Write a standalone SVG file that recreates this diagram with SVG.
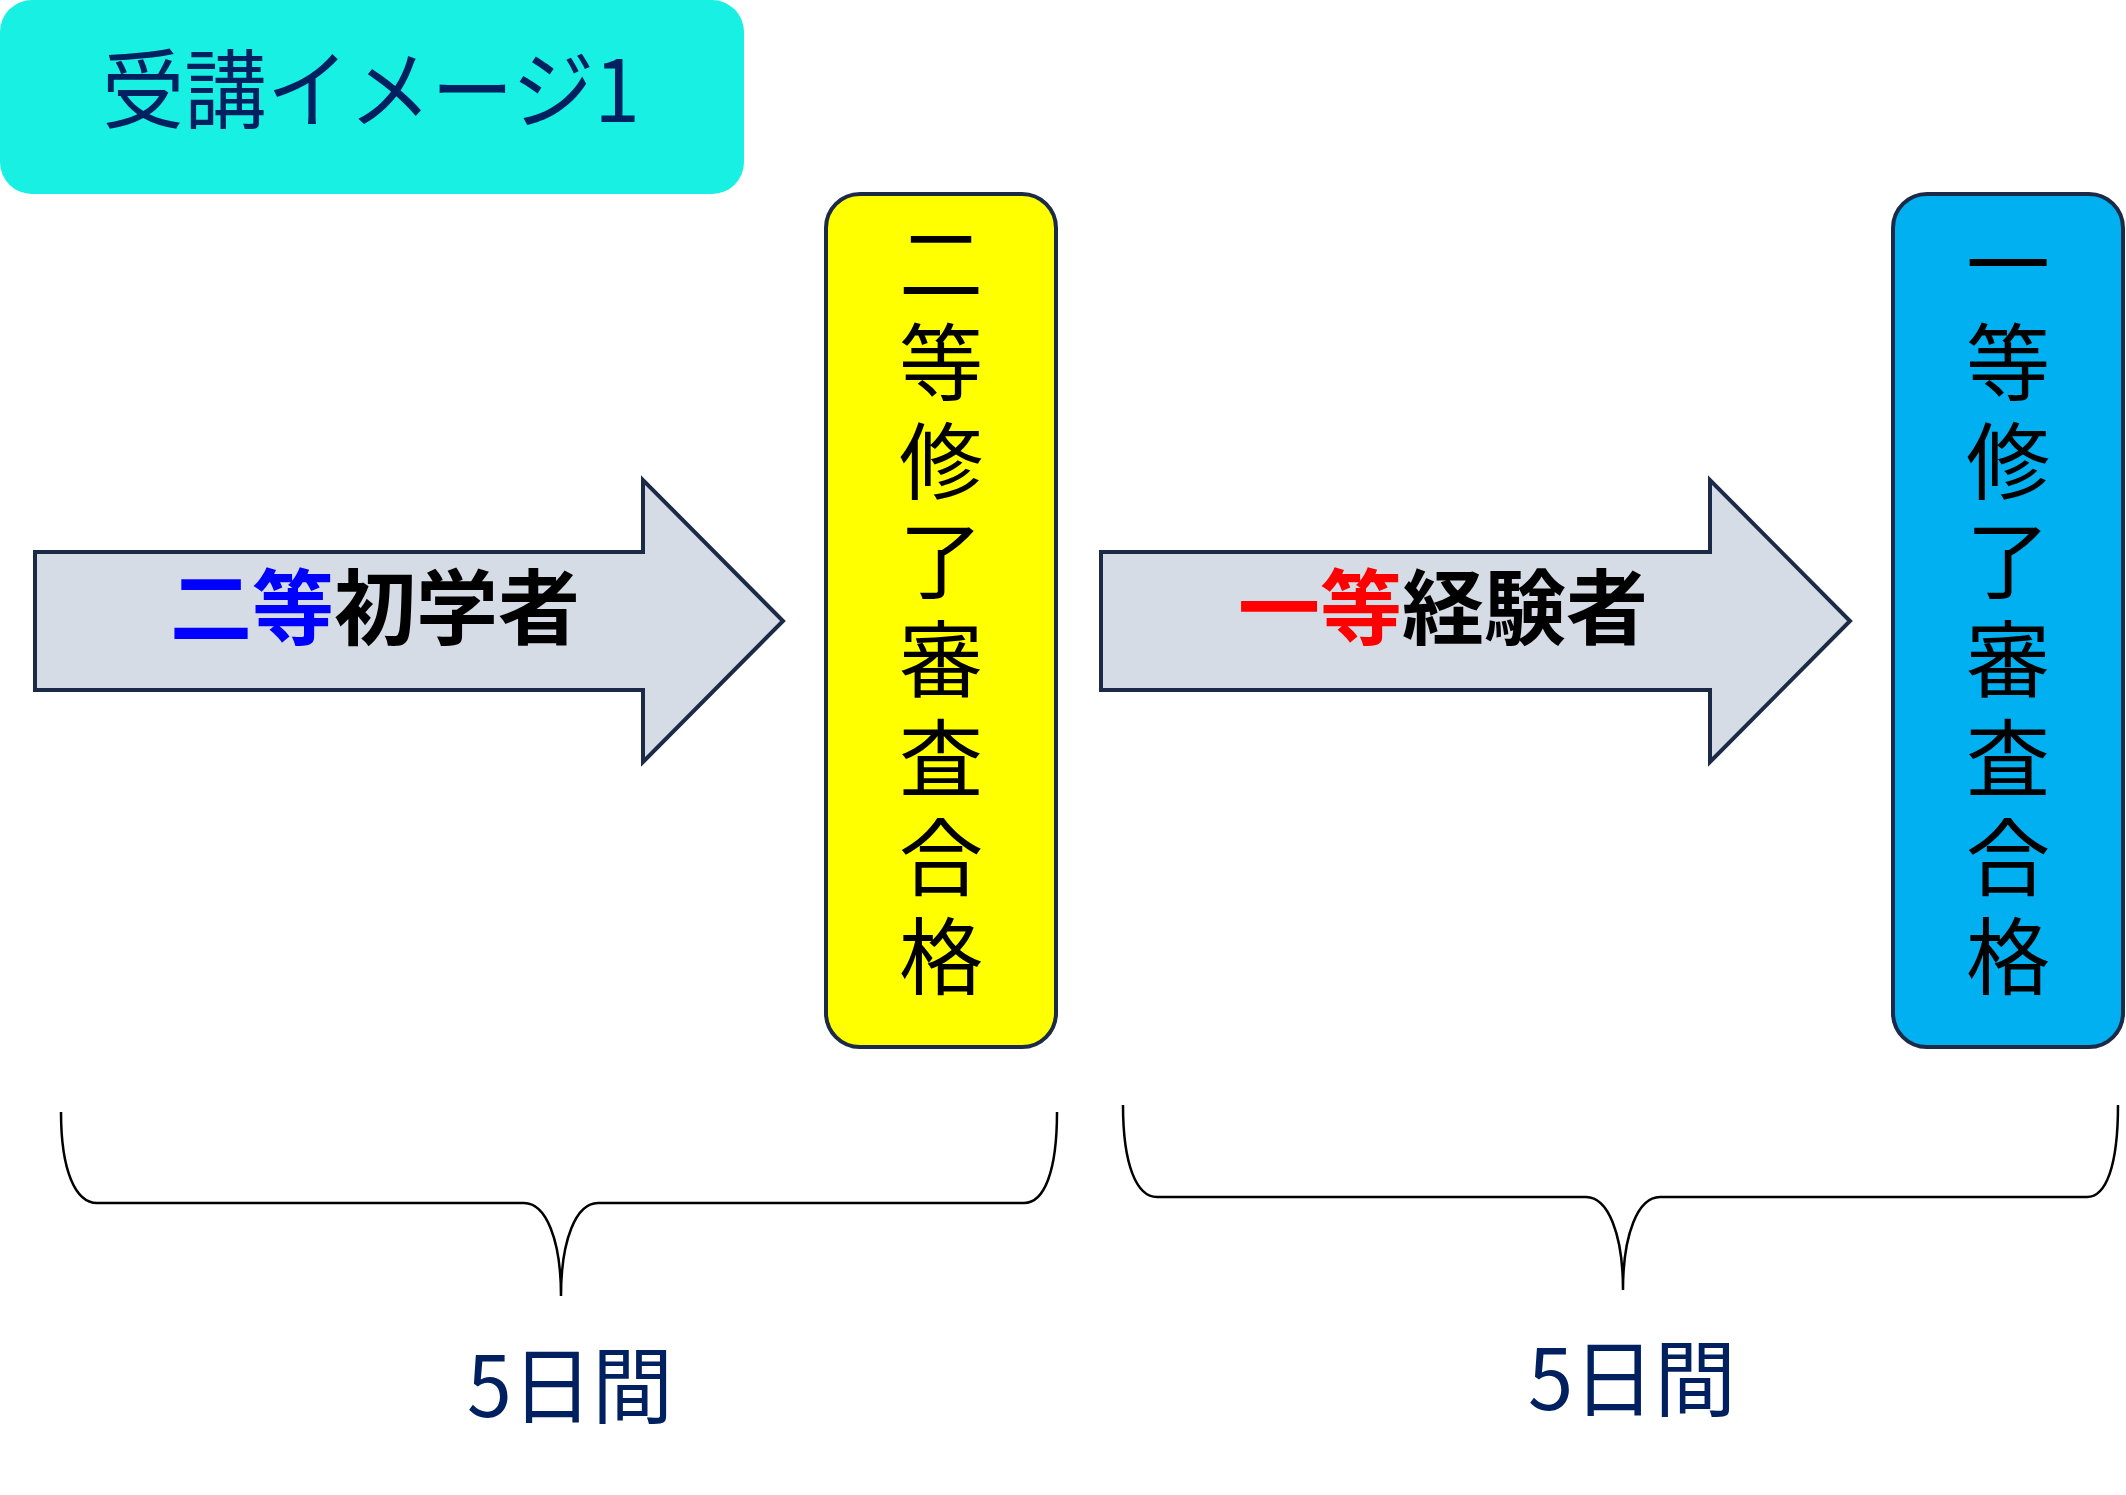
<svg xmlns="http://www.w3.org/2000/svg" width="2126" height="1495" viewBox="0 0 2126 1495">
<style>
.jp{font-family:"Noto Sans CJK JP","Noto Sans",sans-serif;}
.node{stroke:#1B2A47;stroke-width:4;}
.arrowTxt{font-size:82px;font-weight:bold;text-anchor:middle;fill:#000;}
.vtxt{font-size:84px;text-anchor:middle;fill:#000;}
.navy{fill:#002060;}
.brace{fill:none;stroke:#000;stroke-width:2.5;}
</style>
<rect width="2126" height="1495" fill="#fff"/>
<g id="title">
<rect x="0" y="0" width="744" height="194" rx="32" fill="#17F0E2"/>
<text class="jp navy" x="371" y="122" font-size="86" text-anchor="middle" textLength="538" lengthAdjust="spacingAndGlyphs">受講イメージ1</text>
</g>
<g id="arrow1">
<polygon class="node" fill="#D6DCE5" points="35,552 643,552 643,480 783,621 643,762 643,690 35,690"/>
<text class="jp arrowTxt" x="375" y="638"><tspan fill="#0000FF">二等</tspan>初学者</text>
</g>
<g id="box1">
<rect class="node" x="826" y="194" width="230" height="853" rx="34" fill="#FFFF00"/>
<text class="jp vtxt"><tspan x="941" y="295">二</tspan><tspan x="941" y="394">等</tspan><tspan x="941" y="493">修</tspan><tspan x="941" y="592">了</tspan><tspan x="941" y="691">審</tspan><tspan x="941" y="790">査</tspan><tspan x="941" y="889">合</tspan><tspan x="941" y="988">格</tspan></text>
</g>
<g id="arrow2">
<polygon class="node" fill="#D6DCE5" points="1101,552 1710,552 1710,480 1850,621 1710,762 1710,690 1101,690"/>
<text class="jp arrowTxt" x="1443" y="638"><tspan fill="#FF0000">一等</tspan>経験者</text>
</g>
<g id="box2">
<rect class="node" x="1893" y="194" width="230" height="853" rx="34" fill="#00B0F0"/>
<text class="jp vtxt"><tspan x="2008" y="295">一</tspan><tspan x="2008" y="394">等</tspan><tspan x="2008" y="493">修</tspan><tspan x="2008" y="592">了</tspan><tspan x="2008" y="691">審</tspan><tspan x="2008" y="790">査</tspan><tspan x="2008" y="889">合</tspan><tspan x="2008" y="988">格</tspan></text>
</g>
<g id="connectors">
<path class="brace" d="M61,1112 C61,1172 76,1203 97,1203 L524,1203 C546,1203 561,1240 561,1296 C561,1240 576,1203 598,1203 L1024,1203 C1044,1203 1057,1172 1057,1112"/>
<path class="brace" d="M1123,1105 C1123,1166 1137,1197 1157,1197 L1586,1197 C1608,1197 1623,1234 1623,1290 C1623,1234 1638,1197 1660,1197 L2087,1197 C2106,1197 2118,1166 2118,1105"/>
</g>
<g id="label1">
<text class="jp navy" x="570" y="1417" font-size="84" text-anchor="middle" textLength="206" lengthAdjust="spacingAndGlyphs">5日間</text>
</g>
<g id="label2">
<text class="jp navy" x="1632" y="1410" font-size="84" text-anchor="middle" textLength="208" lengthAdjust="spacingAndGlyphs">5日間</text>
</g>
</svg>
